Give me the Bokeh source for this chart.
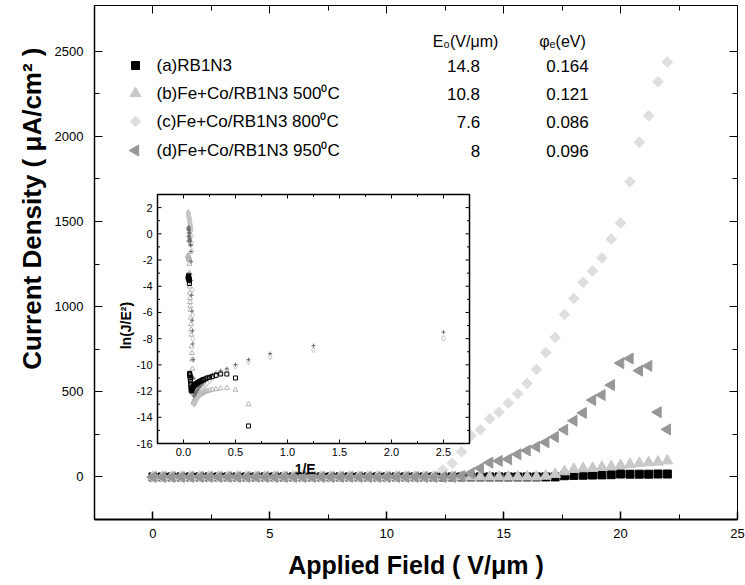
import math
from bokeh.plotting import figure
from bokeh.models import Range1d, LinearAxis, FixedTicker, Title
from bokeh.core.properties import value
from bokeh.embed import file_html
from bokeh.resources import INLINE

NAN = float("nan")

# ---------------- data ----------------
FIELD = [0.0, 0.4, 0.8, 1.2, 1.6, 2.0, 2.4, 2.8, 3.2, 3.6, 4.0, 4.4, 4.8, 5.2,
         5.6, 6.0, 6.4, 6.8, 7.2, 7.6, 8.0, 8.4, 8.8, 9.2, 9.6, 10.0, 10.4, 10.8,
         11.2, 11.6, 12.0, 12.4, 12.8, 13.2, 13.6, 14.0, 14.4, 14.8, 15.2, 15.6,
         16.0, 16.4, 16.8, 17.2, 17.6, 18.0, 18.4, 18.8, 19.2, 19.6, 20.0, 20.4,
         20.8, 21.2, 21.6, 22.0]

J_A = [0, 0, 0, 0, 0, 0, 0, 0, 0, 0, 0, 0, 0, 0, 0, 0, 0, 0, 0, 0, 0, 0, 0, 0,
       0, 0, 0, 0, 0, 0, 0, 0, 0, 0, 0, 0, 0, 0, 0, 0, 0, 0, 0, 0,
       7, 9, 10, 11, 12, 13, 17, 16, 16, 16, 17, 17]
J_B = [0, 0, 0, 0, 0, 0, 0, 0, 0, 0, 0, 0, 0, 0, 0, 0, 0, 0, 0, 0, 0, 0, 0, 0,
       0, 0, 0, 0, 0, 0, 0, 0, 0, 0, 0, 0, 0, 0, 0, 0, 0, 0,
       5, 15, 31, 45, 49, 51, 57, 60, 68, 74, 80, 84, 88, 95]
J_C = [0, 0, 0, 0, 0, 0, 0, 0, 0, 0, 0, 0, 0, 0, 0, 0, 0, 0, 0, 0, 0, 0, 0, 0,
       0, 0, 0, 0, 0, 0,
       2, 41, 80, 148, 242, 277, 341, 380, 433, 488, 549, 631, 731, 819, 954,
       1047, 1143, 1209, 1286, 1396, 1491, 1733, 1965, 2121, 2320, 2436]
J_D = [0, 0, 0, 0, 0, 0, 0, 0, 0, 0, 0, 0, 0, 0, 0, 0, 0, 0, 0, 0, 0, 0, 0, 0,
       0, 0, 0, 0, 0, 0, 0, 0, 0,
       5, 22, 51, 84, 94, 104, 133, 155, 177, 203, 235, 277, 330, 376, 451, 481,
       539, 668, 695, 624, 652, 380, 279]

# inset: ln(J/E^2) for E = 0.4 ... 22.0 (NaN = not plotted)
LN_A = [NAN, NAN, NAN, -14.66, -11.0, -10.7, -10.7, -10.8, -10.88, -10.95, -11.0,
        -11.07, -11.12, -11.17, -11.22, -11.27, -11.31, -11.35, -11.39, -11.43,
        -11.47, -11.5, -11.53, -11.57, -11.6, -11.65, -11.7, -11.75, -11.8,
        -11.85, -11.9, -11.95, -12.0, -11.9, -11.7, -11.5, -11.3, -11.1, -10.95,
        -10.85, -10.75, -10.7, -10.65,
        -3.79, -3.58, -3.52, -3.47, -3.42, -3.39, -3.16, -3.26, -3.30, -3.34,
        -3.31, -3.35]
LN_B = [NAN, NAN, NAN, -13.0, -11.9, -11.76, -11.8, -11.85, -11.9, -11.95, -12.0,
        -12.05, -12.1, -12.15, -12.2, -12.25, -12.3, -12.35, -12.4, -12.45, -12.5,
        -12.55, -12.6, -12.7, -12.8, -12.9, -12.2, -11.0, -10.3, -9.6, -9.1, -8.6,
        -7.7, -7.3, -6.9, -6.4, -5.8, -5.5, -5.2, -4.9, -4.5,
        -4.03, -2.98, -2.30, -1.97, -1.93, -1.94, -1.87, -1.86, -1.77, -1.73,
        -1.69, -1.68, -1.67, -1.63]
LN_C = [-7.97, -8.86, -9.37, -9.75, -10.1, -10.4, -10.6, -10.8, -11.0, -11.2,
        -11.4, -11.55, -11.7, -11.85, -12.0, -12.15, -12.3, -12.45, -12.55,
        -12.65, -12.75, -12.85, -12.9, -12.95, -13.0, -11.5, -9.6, -8.0, -6.2,
        -4.28, -1.32, -0.72, -0.16, 0.27, 0.35, 0.50, 0.55, 0.63, 0.69, 0.76,
        0.85, 0.95, 1.02, 1.13, 1.17, 1.22, 1.23, 1.25, 1.29, 1.32, 1.43, 1.51,
        1.55, 1.60, 1.62]
LN_D = [-7.5, -8.53, -9.14, -9.6, -9.98, -10.3, -10.45, -10.6, -10.75, -10.9,
        -11.05, -11.2, -11.35, -11.45, -11.55, -11.65, -11.75, -11.85, -11.95,
        -12.05, -12.1, -12.2, -12.25, -12.3, -12.4, -11.0, -9.6, -8.4, -7.4, -6.6,
        -5.9, -4.7, -3.55, -2.13, -1.35, -0.90, -0.85, -0.80, -0.60, -0.50,
        -0.42, -0.33, -0.23, -0.11, 0.02, 0.10, 0.24, 0.27, 0.34, 0.51, 0.51,
        0.37, 0.37, -0.21, -0.55]

SERIES_LABELS = ["(a)RB1N3", "(b)Fe+Co/RB1N3 500\u2070C",
                 "(c)Fe+Co/RB1N3 800\u2070C", "(d)Fe+Co/RB1N3 950\u2070C"]
TABLE_HEADERS = ["E\u2080(V/\u03bcm)", "\u03c6\u2091(eV)"]
E0_VALUES = ["14.8", "10.8", "7.6", "8"]
PHI_VALUES = ["0.164", "0.121", "0.086", "0.096"]

X_TICKS = [0, 5, 10, 15, 20, 25]
X_MINOR = [-2.5, 2.5, 7.5, 12.5, 17.5, 22.5]
Y_TICKS = [0, 500, 1000, 1500, 2000, 2500]
Y_MINOR = [-250, 250, 750, 1250, 1750, 2250]
INSET_X_TICKS = [0.0, 0.5, 1.0, 1.5, 2.0, 2.5]
INSET_X_MINOR = [-0.25, 0.25, 0.75, 1.25, 1.75, 2.25, 2.75]
INSET_Y_TICKS = [2, 0, -2, -4, -6, -8, -10, -12, -14, -16]
INSET_Y_MINOR = [3, 1, -1, -3, -5, -7, -9, -11, -13, -15]

# ---------------- layout ----------------
W, H = 745, 585
BL, BR, BT, BB = 94, 8, 5, 66
FW, FH = W - BL - BR, H - BT - BB
X_RANGE = (-2.5, 25.0)
Y_RANGE = (-250, 2768)

# inset box, pixels from the frame's left / top edge
IN_L, IN_R, IN_T, IN_B = 63, 375, 189, 438
IN_XR = (-0.25, 2.75)
IN_YR = (-16.0, 3.0)
ux = (IN_XR[1] - IN_XR[0]) / (IN_R - IN_L)
uy = (IN_YR[1] - IN_YR[0]) / (IN_B - IN_T)
ix_range = Range1d(IN_XR[0] - IN_L * ux, IN_XR[0] + (FW - IN_L) * ux)
iy_range = Range1d(IN_YR[0] - (FH - IN_B) * uy, IN_YR[1] + IN_T * uy)

FONT = "Liberation Sans"

p = figure(width=W, height=H, x_range=Range1d(*X_RANGE), y_range=Range1d(*Y_RANGE),
           output_backend="svg", toolbar_location=None,
           min_border_left=BL, min_border_right=BR, min_border_top=BT, min_border_bottom=BB)
# inset ranges, and a pixel-like range pair for the key/table block
p.extra_x_ranges = {"ix": ix_range, "px": Range1d(BL, W - BR)}
p.extra_y_ranges = {"iy": iy_range, "py": Range1d(H - BB, BT)}
p.xgrid.grid_line_color = None
p.ygrid.grid_line_color = None
p.outline_line_color = "black"
p.outline_line_width = 1
p.background_fill_color = "white"
p.border_fill_color = "white"

xa = p.xaxis[0]
xa.ticker = FixedTicker(ticks=X_TICKS, minor_ticks=X_MINOR)
xa.major_tick_in, xa.major_tick_out = 8, 0
xa.minor_tick_in, xa.minor_tick_out = 5, 0
xa.axis_line_width = 2
xa.major_tick_line_width = 1.5
xa.major_label_standoff = 9
xa.major_label_text_font = FONT
xa.major_label_text_font_size = "13px"
xa.major_label_text_color = "black"
xa.axis_label = "Applied Field ( V/\u03bcm )"
xa.axis_label_text_font = FONT
xa.axis_label_text_font_size = "25px"
xa.axis_label_text_font_style = "bold"
xa.axis_label_text_color = "black"
xa.axis_label_standoff = 10

ya = p.yaxis[0]
ya.ticker = FixedTicker(ticks=Y_TICKS, minor_ticks=Y_MINOR)
ya.major_tick_in, ya.major_tick_out = 8, 0
ya.minor_tick_in, ya.minor_tick_out = 5, 0
ya.axis_line_width = 1.5
ya.axis_line_color = "black"
ya.major_label_standoff = 11
ya.major_label_text_font = FONT
ya.major_label_text_font_size = "13px"
ya.major_label_text_color = "black"

top_ax = LinearAxis(ticker=FixedTicker(ticks=X_TICKS, minor_ticks=X_MINOR),
                    major_tick_in=8, major_tick_out=0, minor_tick_in=5, minor_tick_out=0,
                    major_label_standoff=0, major_label_text_font_size="0px",
                    major_label_overrides={t: "" for t in X_TICKS})
right_ax = LinearAxis(ticker=FixedTicker(ticks=Y_TICKS, minor_ticks=Y_MINOR),
                      major_tick_in=8, major_tick_out=0, minor_tick_in=5, minor_tick_out=0,
                      major_label_standoff=0, major_label_text_font_size="0px",
                      major_label_overrides={t: "" for t in Y_TICKS})
p.add_layout(top_ax, "above")
p.add_layout(right_ax, "right")

# y title: its upper end sits OFFSET px below the top of the frame
p.add_layout(Title(text="Current Density ( \u03bcA/cm\u00b2 )", align="right", offset=42,
                   text_font=FONT, text_font_size="26px", text_font_style="bold",
                   text_color="black"), "left")

# ---------------- main series ----------------
STYLE_A = dict(marker="square", size=8, fill_color="black", line_color="black")
STYLE_B = dict(marker="triangle", size=11, fill_color="#c8c8c8", line_color="#c8c8c8")
STYLE_C = dict(marker="square", angle=math.pi / 4, size=7.5, fill_color="#dedede",
               line_color="#dedede")
STYLE_D = dict(marker="triangle", angle=math.pi / 2, size=11, fill_color="#979797",
               line_color="#979797")
STYLES = [STYLE_A, STYLE_B, STYLE_C, STYLE_D]
for ys, st in zip([J_A, J_B, J_C, J_D], STYLES):
    p.scatter(FIELD, ys, **st)

# ---------------- key + table (pixel-like ranges) ----------------
P = dict(x_range_name="px", y_range_name="py")
ROW_Y = [65, 93, 121, 150]
KEY_X, LABEL_X = 135, 156
for yy, st in zip(ROW_Y, STYLES):
    p.scatter([KEY_X], [yy], **st, **P)
p.text(x=[LABEL_X] * 4, y=ROW_Y, text=SERIES_LABELS, text_align="left",
       text_baseline="middle", text_font=value(FONT), text_font_size="17px",
       text_color="black", **P)
p.text(x=[465, 562], y=[41, 41], text=TABLE_HEADERS, text_align="center",
       text_baseline="middle", text_font=value(FONT), text_font_size="16px",
       text_color="black", **P)
p.text(x=[463, 463, 468, 475], y=ROW_Y, text=E0_VALUES, text_align="center",
       text_baseline="middle", text_font=value(FONT), text_font_size="17px",
       text_color="black", **P)
p.text(x=[567] * 4, y=ROW_Y, text=PHI_VALUES, text_align="center",
       text_baseline="middle", text_font=value(FONT), text_font_size="17px",
       text_color="black", **P)

# ---------------- inset ----------------
K = dict(x_range_name="ix", y_range_name="iy")
p.quad(left=[IN_XR[0]], right=[IN_XR[1]], bottom=[IN_YR[0]], top=[IN_YR[1]],
       fill_color="white", line_color="black", line_width=1.5, **K)

def vticks(vals, length):
    n = len(vals)
    p.segment(x0=vals, x1=vals, y0=[IN_YR[0]] * n, y1=[IN_YR[0] + length * uy] * n,
              line_color="black", line_width=1, **K)
    p.segment(x0=vals, x1=vals, y0=[IN_YR[1]] * n, y1=[IN_YR[1] - length * uy] * n,
              line_color="black", line_width=1, **K)

def hticks(vals, length):
    n = len(vals)
    p.segment(x0=[IN_XR[0]] * n, x1=[IN_XR[0] + length * ux] * n, y0=vals, y1=vals,
              line_color="black", line_width=1, **K)
    p.segment(x0=[IN_XR[1]] * n, x1=[IN_XR[1] - length * ux] * n, y0=vals, y1=vals,
              line_color="black", line_width=1, **K)

vticks(INSET_X_TICKS, 4)
vticks(INSET_X_MINOR, 2.5)
hticks(INSET_Y_TICKS, 4)
hticks(INSET_Y_MINOR, 2.5)

p.text(x=INSET_X_TICKS, y=[IN_YR[0]] * len(INSET_X_TICKS),
       text=["%.1f" % t for t in INSET_X_TICKS], y_offset=4, text_align="center",
       text_baseline="top", text_font=value(FONT), text_font_size="11px",
       text_color="black", **K)
p.text(x=[IN_XR[0]] * len(INSET_Y_TICKS), y=INSET_Y_TICKS,
       text=["%d" % t for t in INSET_Y_TICKS], x_offset=-5, text_align="right",
       text_baseline="middle", text_font=value(FONT), text_font_size="11px",
       text_color="black", **K)
p.text(x=[(IN_XR[0] + IN_XR[1]) / 2 - 0.08], y=[IN_YR[0]], text=["1/E"], y_offset=25,
       text_align="center", text_baseline="middle", text_font=value(FONT),
       text_font_size="14px", text_font_style="bold", text_color="black", **K)
p.text(x=[IN_XR[0]], y=[-7.0], text=["ln(J/E\u00b2)"], x_offset=-32, angle=math.pi / 2,
       text_align="center", text_baseline="middle", text_font=value(FONT),
       text_font_size="14px", text_font_style="bold", text_color="black", **K)

INV_E = [1.0 / e for e in FIELD[1:]]
p.scatter(INV_E, LN_B, marker="triangle", size=5, fill_color=None, line_color="#b4b4b4", **K)
p.scatter(INV_E, LN_C, marker="diamond", size=6, fill_color=None, line_color="#c4c4c4", **K)
p.scatter(INV_E, LN_D, marker="cross", size=4, line_color="#707070", **K)
p.scatter(INV_E, LN_A, marker="square", size=4, fill_color=None, line_color="black", **K)

open("out.html", "w").write(file_html(p, INLINE))
